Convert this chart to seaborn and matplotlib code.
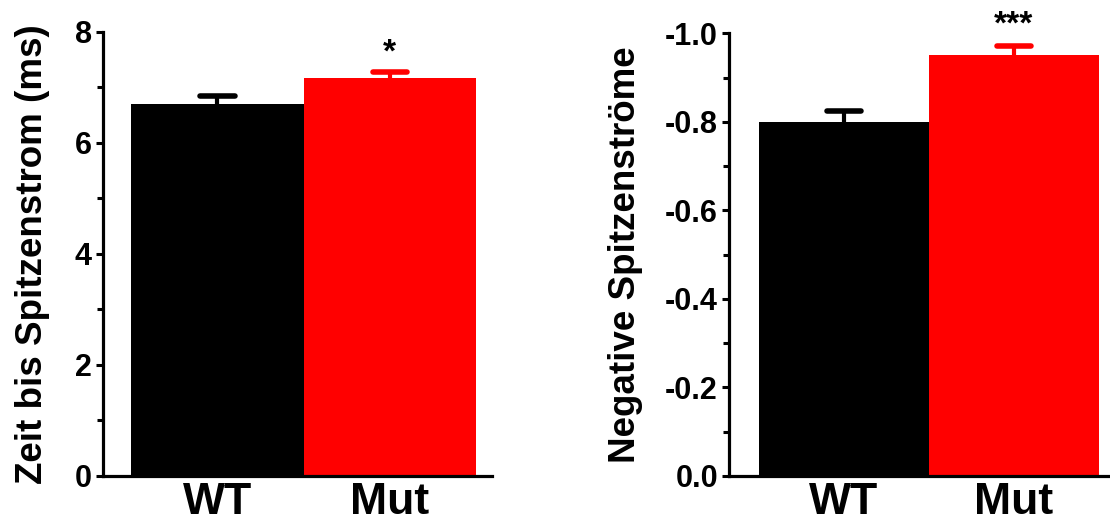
import numpy as np
import pandas as pd
import matplotlib
matplotlib.use("Agg")
import matplotlib.pyplot as plt
from matplotlib.ticker import MultipleLocator
import seaborn as sns

# data
groups = ["WT", "Mut"]
colors = ["#000000", "#ff0000"]

time_to_peak = [6.70, 7.16]       # ms
time_to_peak_sem = [0.14, 0.11]
time_sig = "*"

peak_current = [-0.800, -0.951]   # normalised
peak_current_sem = [0.024, 0.021]
peak_sig = "***"

sns.set_style("ticks")
plt.rcParams["font.family"] = ["Liberation Sans", "DejaVu Sans"]
plt.rcParams["font.weight"] = "bold"
plt.rcParams["axes.labelweight"] = "bold"
for k in ["text.color", "axes.labelcolor", "xtick.color", "ytick.color"]:
    plt.rcParams[k] = "black"


def style_axis(ax):
    sns.despine(ax=ax)
    for s in ["left", "bottom"]:
        ax.spines[s].set_linewidth(2.3)
        ax.spines[s].set_color("black")
    ax.tick_params(axis="y", which="major", length=5, width=2.2, labelsize=22, pad=3, color="black")
    ax.tick_params(axis="y", which="minor", length=4, width=2.2, color="black")
    ax.tick_params(axis="x", length=0, labelsize=32, pad=4)
    for lab in ax.get_xticklabels() + ax.get_yticklabels():
        lab.set_fontweight("bold")
    ax.set_xlabel("")


def draw_errors(ax, vals, errs, sign):
    for i, (v, e) in enumerate(zip(vals, errs)):
        top = v + sign * e
        ax.vlines(i, v, top, color=colors[i], lw=3, zorder=3)
        ax.hlines(top, i - 0.1, i + 0.1, color=colors[i], lw=4, capstyle="round", zorder=3)


fig = plt.figure(figsize=(11.1, 5.31), dpi=100)
ax1 = fig.add_axes([0.0928, 0.1036, 0.3505, 0.8367])
ax2 = fig.add_axes([0.6568, 0.1036, 0.3432, 0.8337])

# left panel: time to peak
df1 = pd.DataFrame({"group": groups, "value": time_to_peak})
sns.barplot(data=df1, x="group", y="value", hue="group", palette=colors, saturation=1,
            width=1.0, errorbar=None, legend=False, ax=ax1, linewidth=0)
draw_errors(ax1, time_to_peak, time_to_peak_sem, 1)
ax1.set_xlim(-0.663, 1.593)
ax1.set_ylim(0, 8)
ax1.yaxis.set_major_locator(MultipleLocator(2))
ax1.yaxis.set_minor_locator(MultipleLocator(1))
ax1.set_ylabel("Zeit bis Spitzenstrom (ms)", fontsize=26.5, fontweight="bold")
ax1.yaxis.set_label_coords(-0.135, 0.5)
ax1.annotate(time_sig, xy=(1, time_to_peak[1] + time_to_peak_sem[1]), xytext=(0, 3),
             textcoords="offset points", ha="center", va="bottom",
             fontsize=24, fontweight="bold", annotation_clip=False)
style_axis(ax1)

# right panel: peak currents (axis runs from 0 down to -1.0)
df2 = pd.DataFrame({"group": groups, "value": peak_current})
sns.barplot(data=df2, x="group", y="value", hue="group", palette=colors, saturation=1,
            width=1.0, errorbar=None, legend=False, ax=ax2, linewidth=0)
draw_errors(ax2, peak_current, peak_current_sem, -1)
ax2.set_xlim(-0.676, 1.565)
ax2.set_ylim(0, -1.0)
ax2.yaxis.set_major_locator(MultipleLocator(0.2))
ax2.yaxis.set_minor_locator(MultipleLocator(0.1))
ax2.yaxis.set_major_formatter(lambda v, p: f"{v:.1f}" if abs(v) > 1e-9 else "0.0")
ax2.set_ylabel("Negative Spitzenströme", fontsize=26.5, fontweight="bold")
ax2.yaxis.set_label_coords(-0.226, 0.5)
ax2.annotate(peak_sig, xy=(1, peak_current[1] - peak_current_sem[1]), xytext=(0, 4),
             textcoords="offset points", ha="center", va="bottom",
             fontsize=24, fontweight="bold", annotation_clip=False)
style_axis(ax2)
for sp in ax2.spines.values():
    sp.set_clip_on(False)

fig.savefig("out.png", dpi=100)
